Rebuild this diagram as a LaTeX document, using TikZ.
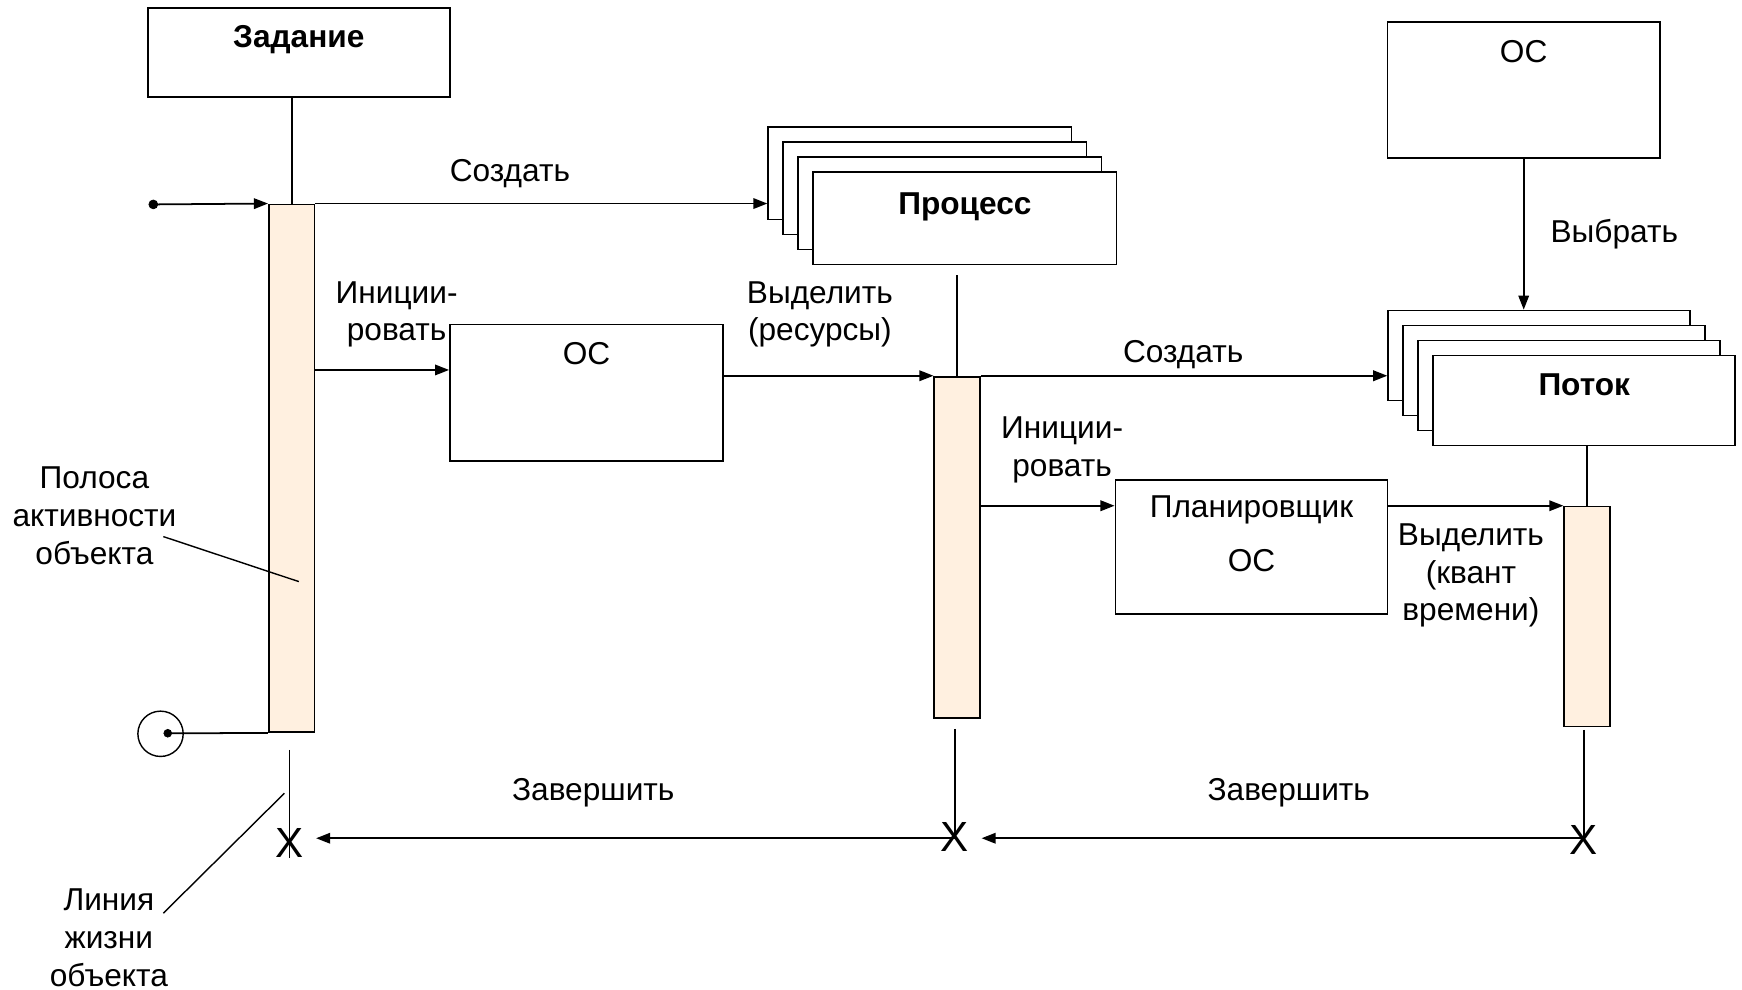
\documentclass[tikz,border=0pt]{standalone}
\usepackage{fontspec}
\setmainfont{Liberation Sans}
\usetikzlibrary{arrows.meta}
\definecolor{barfill}{RGB}{255,240,224}
\newcommand{\px}{0.022222cm}
\tikzset{
  objbox/.style={draw, line width=1pt, fill=white, inner sep=0pt},
  toptext/.style={anchor=center, yshift=-27*\px},
  actbar/.style={draw, line width=1pt, fill=barfill, inner sep=0pt, minimum width=41*\px},
  msg/.style={line width=1pt, -{Triangle[length=8pt, width=6pt]}},
  life/.style={line width=1pt},
  xmark/.style={font=\fontsize{24}{24}\selectfont, inner sep=0pt, inner xsep=7pt},
}
\begin{document}
\begin{tikzpicture}[x=\px, y=-\px, every node/.style={black, font=\fontsize{18}{21.5}\selectfont}]
\useasboundingbox (0,0) rectangle (1568,891);

% objects
\node[objbox, minimum width=272*\px, minimum height=80*\px, label={[name=taskt, toptext, yshift=-2*\px]north:\textbf{Задание}}] (task) at (269,47) {};
\node[objbox, minimum width=246*\px, minimum height=123*\px, label={[name=os1t, toptext]north:ОС}] (os1) at (528,353.5) {};
\node[objbox, minimum width=245*\px, minimum height=122*\px, label={[name=os3t, toptext]north:ОС}] (os3) at (1371.5,81) {};
\node[objbox, minimum width=245*\px, minimum height=121*\px, label={[name=schedt, anchor=center, yshift=-49*\px, align=center]north:Планировщик\\[9.4pt]ОС}] (sched) at (1126.5,492.5) {};

% stacks
\foreach \i in {3,2,1}
  \node[objbox, minimum width=273*\px, minimum height=83*\px] (proc\i) at ({868.5-13.5*\i},{196.5-13.5*\i}) {};
\node[objbox, minimum width=273*\px, minimum height=83*\px, label={[name=proct, toptext, yshift=-5*\px]north:\textbf{Процесс}}] (proc) at (868.5,196.5) {};
\foreach \i in {3,2,1}
  \node[objbox, minimum width=272*\px, minimum height=81*\px] (thr\i) at ({1426-13.5*\i},{360.5-13.5*\i}) {};
\node[objbox, minimum width=272*\px, minimum height=81*\px, label={[name=thrt, toptext]north:\textbf{Поток}}] (thr) at (1426,360.5) {};

% activation bars
\node[actbar, minimum height=475*\px] (bar1) at (262.5,421.5) {};
\node[actbar, minimum height=307*\px] (bar2) at (861.5,492.5) {};
\node[actbar, minimum height=198*\px] (bar3) at (1428.5,555) {};

% ends of lifelines
\node[xmark] (x1) at (260.5,759) {X};
\node[xmark] (x2) at (859.5,753.5) {X};
\node[xmark] (x3) at (1425.5,756.5) {X};
\coordinate (endrow) at (0,754.5);

% lifelines
\draw[life] (task.south -| bar1.north) -- (bar1.north);
\draw[life] ([yshift=-9*\px]proc.south -| bar2.north) -- (bar2.north);
\draw[life] (thr.south -| bar3.north) -- (bar3.north);
\draw[life] (x1.center |- 0,675) -- (x1.south);
\draw[life] (x2.center |- 0,656) -- (x2.center);
\draw[life] (x3.center |- 0,657) -- (x3.center);

% start and stop
\coordinate (start) at (138,184);
\filldraw (start) circle(4*\px);
\coordinate (stop) at (151,660);
\draw[line width=0.8pt] (144.5,660.5) circle(20.4*\px);
\filldraw (stop) circle(3.5*\px);
\draw[msg] (start) -- (bar1.north west);
\draw[life] (stop) -- (bar1.south west);

% messages
\draw[msg] (bar1.north east) -- (bar1.north east -| proc3.west);
\draw[msg] (bar1.east |- 0,333) -- (os1.west |- 0,333);
\draw[msg] (os1.east |- bar2.north west) -- (bar2.north west);
\draw[msg] (bar2.north east) -- (bar2.north east -| thr3.west);
\draw[msg] (bar2.east |- bar3.north) -- (sched.west |- bar3.north);
\draw[msg] (sched.east |- bar3.north west) -- (bar3.north west);
\draw[msg] (os3.south) -- (os3.south |- thr3.north);
\draw[msg] (x3.center |- endrow) -- (x2.east |- endrow);
\draw[msg] (x2.center |- endrow) -- (x1.east |- endrow);

% message labels
\node (create1) at (459,156) {Создать};
\node[align=center] (init1) at (357,283) {Иниции-\\ровать};
\node[align=center] (alloc1) at (738,283) {Выделить\\(ресурсы)};
\node (create2) at (1065,319) {Создать};
\node[align=center] (init2) at (956,405) {Иниции-\\ровать};
\node[align=center] (alloc2) at (1324,518) {Выделить\\(квант\\времени)};
\node (pick) at (1453,211) {Выбрать};
\node (end1) at (534,714) {Завершить};
\node (end2) at (1160,714) {Завершить};

% notes
\node[align=center] (barnote) at (85,464) {Полоса\\активности\\объекта};
\node[align=center] (lifenote) at (98,844) {Линия\\жизни\\объекта};
\coordinate (barnoteA) at (147,483);
\coordinate (barnoteB) at (269,523.5);
\coordinate (lifenoteA) at (147,822);
\coordinate (lifenoteB) at (256,714);
\draw[line width=0.8pt] (barnoteA) -- (barnoteB);
\draw[line width=0.8pt] (lifenoteA) -- (lifenoteB);

\end{tikzpicture}
\end{document}
